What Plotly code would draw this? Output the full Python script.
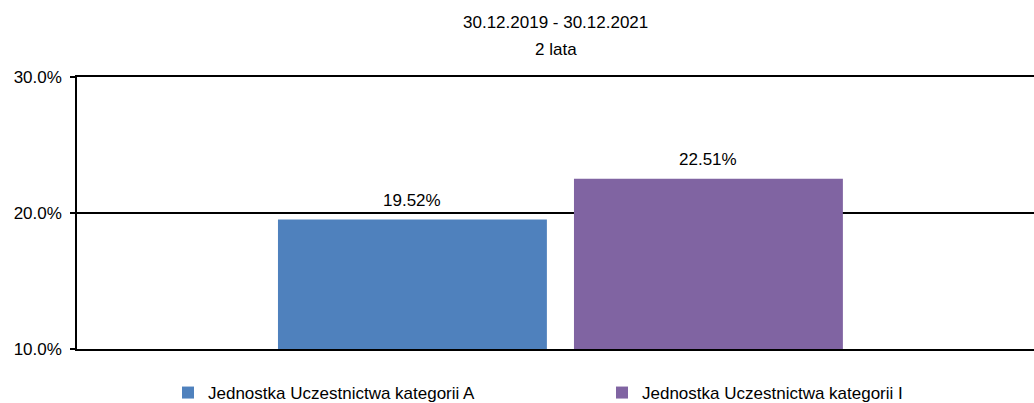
import plotly.graph_objects as go

# Period and horizon shown in the header
period = "30.12.2019 - 30.12.2021"
horizon = "2 lata"

# Return per participation-unit category (in %)
series_names = ["Jednostka Uczestnictwa kategorii A", "Jednostka Uczestnictwa kategorii I"]
returns = [19.52, 22.51]
colors = ["#4F81BD", "#8064A2"]

# Y axis ticks
tick_vals = [10, 20, 30]
tick_text = ["10.0%", "20.0%", "30.0%"]

# Horizontal placement of each bar inside the single group
offsets = [-0.290, 0.0193]
bar_width = 0.281

FONT = "Arial, Liberation Sans, sans-serif"
FS = 17

fig = go.Figure()
for name, val, col, off in zip(series_names, returns, colors, offsets):
    fig.add_trace(go.Bar(
        x=[0], y=[val], name=name, marker=dict(color=col, line=dict(width=0)),
        offset=off, width=bar_width, hoverinfo="skip",
    ))
    fig.add_annotation(
        x=off + bar_width / 2, y=val, text=f"{val:.2f}%", showarrow=False,
        xref="x", yref="y", yanchor="bottom", yshift=8,
        font=dict(family=FONT, size=FS, color="#000"),
    )

fig.add_annotation(text=period, xref="paper", yref="paper", x=0.5, y=1, yshift=55,
                   showarrow=False, yanchor="middle", font=dict(family=FONT, size=FS, color="#000"))
fig.add_annotation(text=horizon, xref="paper", yref="paper", x=0.5, y=1, yshift=28,
                   showarrow=False, yanchor="middle", font=dict(family=FONT, size=FS, color="#000"))

fig.update_layout(
    width=1034, height=403,
    margin=dict(l=77, r=0, t=77, b=54, autoexpand=False),
    paper_bgcolor="white", plot_bgcolor="white",
    barmode="overlay",
    showlegend=True,
    legend=dict(orientation="h", xref="container", yref="container",
                x=168 / 1034, xanchor="left", y=10 / 403, yanchor="middle",
                entrywidth=389, entrywidthmode="pixels",
                font=dict(family=FONT, size=FS, color="#000"),
                itemwidth=30, tracegroupgap=0, bgcolor="rgba(0,0,0,0)"),
    font=dict(family=FONT, size=FS, color="#000"),
)
fig.update_xaxes(range=[-0.5, 0.5], showticklabels=False, showgrid=False,
                 zeroline=False, showline=True, mirror=True, linecolor="#000",
                 linewidth=1.5, ticks="", layer="below traces")
fig.update_yaxes(range=[10, 30], tickvals=tick_vals, ticktext=tick_text,
                 showgrid=True, gridcolor="#000", gridwidth=1.5,
                 showline=True, linecolor="#000", linewidth=1.5,
                 ticks="outside", ticklen=5, tickcolor="#000", tickwidth=1.5,
                 ticklabelstandoff=5,
                 zeroline=False, tickfont=dict(family=FONT, size=FS, color="#000"))

fig.write_html("out.html")
